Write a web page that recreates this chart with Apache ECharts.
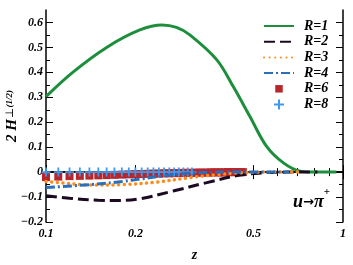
<!DOCTYPE html>
<html>
<head>
<meta charset="utf-8">
<script src="https://cdn.jsdelivr.net/npm/echarts@6/dist/echarts.min.js"></script>
<style>html,body{margin:0;padding:0;background:#fff}#c{width:353px;height:265px}</style>
</head>
<body>
<div id="c"></div>
<script>
// ---- data ----
var zR1 = [0.10, 0.123, 0.16, 0.207, 0.246, 0.275, 0.305, 0.376, 0.427, 0.486, 0.553, 0.63, 0.717, 0.80, 0.95];
var vR1 = [0.303, 0.40, 0.50, 0.57, 0.59, 0.58, 0.55, 0.45, 0.343, 0.223, 0.103, 0.037, 0.004, 0.0, 0.0];

var zR2 = [0.10, 0.12, 0.15, 0.175, 0.207, 0.268, 0.348, 0.45, 0.55, 0.65, 0.82];
var vR2 = [-0.095, -0.105, -0.113, -0.114, -0.107, -0.076, -0.042, -0.012, -0.002, 0.0, 0.0];

var zR3 = [0.10, 0.111, 0.141, 0.182, 0.236, 0.305, 0.376, 0.45, 0.55, 0.73];
var vR3 = [-0.038, -0.042, -0.052, -0.050, -0.040, -0.022, -0.010, -0.003, 0.0, 0.0];

var zR4 = [0.10, 0.141, 0.182, 0.207, 0.245, 0.30, 0.40, 0.66];
var vR4 = [-0.062, -0.050, -0.037, -0.028, -0.016, -0.005, 0.0, 0.0];

var zR6 = [0.10,0.11,0.12,0.13,0.14,0.15,0.16,0.17,0.18,0.19,0.20,0.21,0.22,0.23,0.24,0.25,0.26,0.27,0.28,0.29,0.30,0.31,0.32,0.33,0.34,0.35,0.36,0.37,0.38,0.39,0.40,0.41,0.42,0.43,0.44,0.45,0.46];
var vR6 = [-0.020,-0.018,-0.016,-0.015,-0.014,-0.013,-0.012,-0.011,-0.010,-0.009,-0.008,-0.008,-0.007,-0.006,-0.006,-0.005,-0.005,-0.004,-0.004,-0.003,-0.003,-0.003,-0.002,-0.002,-0.002,-0.002,-0.001,-0.001,-0.001,-0.001,-0.001,0.0,0.0,0.0,0.0,0.0,0.0];

var zR8 = [0.10,0.11,0.12,0.13,0.14,0.15,0.16,0.17,0.18,0.19,0.20,0.21,0.22,0.23,0.24,0.25,0.26,0.27,0.28,0.29,0.30,0.31];
var vR8 = [0,0,0,0,0,0,0,0,0,0,0,0,0,0,0,0,0,0,0,0,0,0];

var xMajorTicks = [0.1, 0.2, 0.5, 1];
var xMinorTicks = [0.3, 0.4, 0.6, 0.7, 0.8, 0.9];
var yMajorTicks = [-0.2, -0.1, 0, 0.1, 0.2, 0.3, 0.4, 0.5, 0.6];
var yMinorTicks = [-0.15, -0.05, 0.05, 0.15, 0.25, 0.35, 0.45, 0.55];

function pairs(xs, ys) { return xs.map(function (x, i) { return [x, ys[i]]; }); }

var FONT = 'Liberation Serif';
var lblStyle = { fontFamily: FONT, fontWeight: 'bold', fontStyle: 'italic', fontSize: 12, color: '#000' };
function fmt(v) { var s = String(Math.round(v * 100) / 100); return s.replace('-', '\u2212'); }

function xAx(pos, major, showLabel, name) {
  var a = {
    type: 'log', logBase: 10, min: 0.1, max: 1, position: pos,
    axisLine: { show: major, lineStyle: { color: '#000', width: 1.5 } },
    axisTick: { show: true, inside: true, length: major ? 7 : 4, customValues: major ? xMajorTicks : xMinorTicks, lineStyle: { color: '#000', width: 1 } },
    axisLabel: { show: showLabel, customValues: xMajorTicks, margin: 6, formatter: fmt },
    splitLine: { show: false }, minorTick: { show: false }, minorSplitLine: { show: false }
  };
  a.axisLabel = Object.assign(a.axisLabel, lblStyle);
  if (name) {
    a.name = name; a.nameLocation = 'middle'; a.nameGap = 26; a.nameMoveOverlap = false;
    a.nameTextStyle = { fontFamily: FONT, fontWeight: 'bold', fontStyle: 'italic', fontSize: 14, color: '#000' };
  }
  return a;
}
function yAx(pos, major, showLabel, withName) {
  var a = {
    type: 'value', min: -0.2, max: 0.65, position: pos,
    axisLine: { show: major, onZero: false, lineStyle: { color: '#000', width: 1.5 } },
    axisTick: { show: true, inside: true, length: major ? 7 : 4, customValues: major ? yMajorTicks : yMinorTicks, lineStyle: { color: '#000', width: 1 } },
    axisLabel: { show: showLabel, customValues: yMajorTicks, margin: 3, formatter: fmt },
    splitLine: { show: false }
  };
  a.axisLabel = Object.assign(a.axisLabel, lblStyle);
  if (withName) {
    a.name = '{a|2 H}{b|\u22A5}{c|(1/2)}';
    a.nameLocation = 'middle'; a.nameGap = 26; a.nameMoveOverlap = false;
    a.nameTextStyle = {
      color: '#000',
      rich: {
        a: { fontFamily: FONT, fontWeight: 'bold', fontStyle: 'italic', fontSize: 15, color: '#000' },
        b: { fontFamily: 'DejaVu Serif', fontSize: 11, color: '#000', verticalAlign: 'top', padding: [0, 0, 4, 1] },
        c: { fontFamily: FONT, fontWeight: 'bold', fontStyle: 'italic', fontSize: 9, color: '#000', verticalAlign: 'top', padding: [0, 0, 6, 0] }
      }
    };
  }
  return a;
}

var legendText = { fontFamily: FONT, fontWeight: 'bold', fontStyle: 'italic', fontSize: 14, color: '#000', padding: [0, 0, 0, 5] };
var noSym = { color: 'transparent', borderColor: 'transparent', borderWidth: 0 };

var option = {
  animation: false,
  backgroundColor: '#fff',
  grid: { left: 46, right: 10, top: 10, bottom: 43, show: false, outerBoundsMode: 'none', containLabel: false },
  xAxis: [xAx('bottom', true, true, 'z'), xAx('bottom', false, false), xAx('top', true, false), xAx('top', false, false)],
  yAxis: [yAx('left', true, true, true), yAx('left', false, false), yAx('right', true, false), yAx('right', false, false)],
  legend: {
    data: [
      { name: 'R=1', itemStyle: noSym }, { name: 'R=2', itemStyle: noSym }, { name: 'R=3', itemStyle: noSym }, { name: 'R=4', itemStyle: noSym },
      { name: 'R=6', icon: 'path://M-3,-3M0,0h10v10h-10zM13,13' },
      { name: 'R=8', icon: 'path://M-6,-6M-1,-5h2v4h4v2h-4v4h-2v-4h-4v-2h4zM6,6' }
    ],
    orient: 'vertical', left: 263, top: 19, padding: 0, itemWidth: 30, itemHeight: 12, itemGap: 1.7,
    textStyle: legendText, selectedMode: false, symbolKeepAspect: true
  },
  title: {
    text: '{a|u}{r|\u2192}{a|\u03C0}{b|+}', right: 18, top: 182,
    textStyle: {
      rich: {
        a: { fontFamily: FONT, fontWeight: 'bold', fontStyle: 'italic', fontSize: 18, color: '#000', lineHeight: 24, verticalAlign: 'bottom' },
        r: { fontFamily: 'DejaVu Sans', fontWeight: 'bold', fontSize: 13, color: '#000', lineHeight: 24, verticalAlign: 'bottom', padding: [0, 0, 2, 0] },
        b: { fontFamily: FONT, fontWeight: 'bold', fontSize: 11, color: '#000', verticalAlign: 'top' }
      }
    }
  },
  series: [
    { name: 'R=1', type: 'line', smooth: 0.35, showSymbol: false, symbol: 'none', data: pairs(zR1, vR1), lineStyle: { color: '#1d8f3c', width: 3 }, itemStyle: { color: '#1d8f3c' } },
    { name: 'R=2', type: 'line', smooth: 0.35, showSymbol: false, symbol: 'none', data: pairs(zR2, vR2), lineStyle: { color: '#1c0a22', width: 3, type: [11, 5] }, itemStyle: { color: '#1c0a22' } },
    { name: 'R=3', type: 'line', smooth: 0.35, showSymbol: false, symbol: 'none', data: pairs(zR3, vR3), lineStyle: { color: '#ff8c1a', width: 3.5, type: [0.1, 5.5], cap: 'round' }, itemStyle: { color: '#ff8c1a' } },
    { name: 'R=4', type: 'line', smooth: 0.35, showSymbol: false, symbol: 'none', data: pairs(zR4, vR4), lineStyle: { color: '#2a6fba', width: 3, type: [9, 3, 2, 3] }, itemStyle: { color: '#2a6fba' } },
    { name: 'R=6', type: 'scatter', symbol: 'rect', symbolSize: 8, data: pairs(zR6, vR6), itemStyle: { color: '#b8262b', opacity: 1 } },
    { name: 'R=8', type: 'scatter', symbol: 'path://M-1,-5h2v4h4v2h-4v4h-2v-4h-4v-2h4z', symbolSize: 9, data: pairs(zR8, vR8), itemStyle: { color: '#3a9af0', opacity: 1 } }
  ]
};
var chart = echarts.init(document.getElementById('c'), null, { renderer: 'canvas' });
chart.setOption(option);
</script>
</body>
</html>
